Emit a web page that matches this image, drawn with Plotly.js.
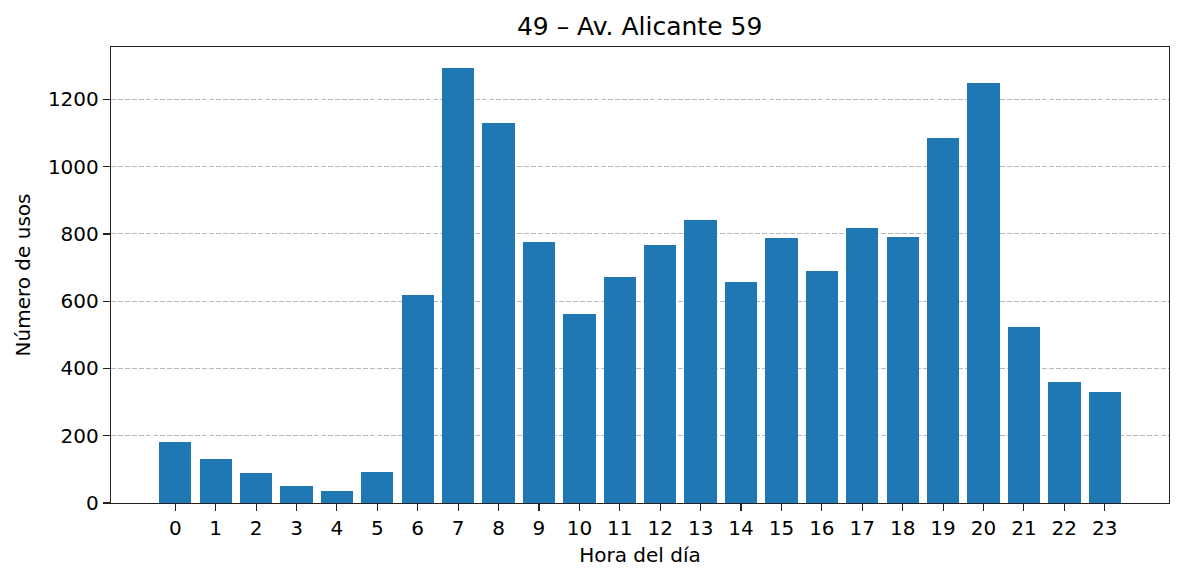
<!DOCTYPE html>
<html>
<head>
<meta charset="utf-8">
<script src="https://cdn.plot.ly/plotly-3.0.1.min.js"></script>
<style>html,body{margin:0;padding:0;background:#fff;}#chart{width:1184px;height:581px;}</style>
</head>
<body>
<div id="chart"></div>
<script>
const hours = [0,1,2,3,4,5,6,7,8,9,10,11,12,13,14,15,16,17,18,19,20,21,22,23];
const usos = [180,130,88,50,35,91,618,1293,1130,776,561,671,767,841,657,787,689,817,790,1085,1249,523,359,329];
const tickLabels = hours.map(String);
const yTicks = [0,200,400,600,800,1000,1200];
const chartTitle = "49 – Av. Alicante 59";
const xTitle = "Hora del día";
const yTitle = "Número de usos";

const fam = "DejaVu Sans";
Plotly.newPlot("chart", [{
  type: "bar",
  x: hours,
  y: usos,
  width: 0.8,
  marker: {color: "#1f77b4", line: {width: 0}},
  hoverinfo: "x+y"
}], {
  width: 1184, height: 581,
  margin: {l: 111, r: 15, t: 47, b: 78},
  paper_bgcolor: "#fff", plot_bgcolor: "#fff",
  font: {family: fam, size: 20, color: "#000"},
  title: {text: chartTitle, font: {family: fam, size: 25, color: "#000"}, x: 0.5402, xanchor: "center", y: 1 - 26/581, yanchor: "middle"},
  showlegend: false,
  bargap: 0,
  xaxis: {
    range: [-1.59, 24.59],
    tickmode: "array", tickvals: hours, ticktext: tickLabels,
    ticks: "outside", ticklen: 7, tickwidth: 1.1, tickcolor: "#222",
    showline: true, linecolor: "#222", linewidth: 1.2, mirror: true,
    showgrid: false, zeroline: false,
    tickfont: {size: 20, family: fam, color: "#000"},
    title: {text: xTitle, font: {size: 20, family: fam, color: "#000"}, standoff: 8}
  },
  yaxis: {
    range: [0, 1356],
    tickmode: "array", tickvals: yTicks,
    ticks: "outside", ticklen: 7, tickwidth: 1.1, tickcolor: "#222",
    showline: true, linecolor: "#222", linewidth: 1.2, mirror: true,
    showgrid: true, gridcolor: "#b0b0b0", griddash: "5px,2px", gridwidth: 0.9,
    zeroline: false,
    tickfont: {size: 20, family: fam, color: "#000"},
    title: {text: yTitle, font: {size: 20, family: fam, color: "#000"}, standoff: 11}
  }
}, {displayModeBar: false, staticPlot: true});
</script>
</body>
</html>
